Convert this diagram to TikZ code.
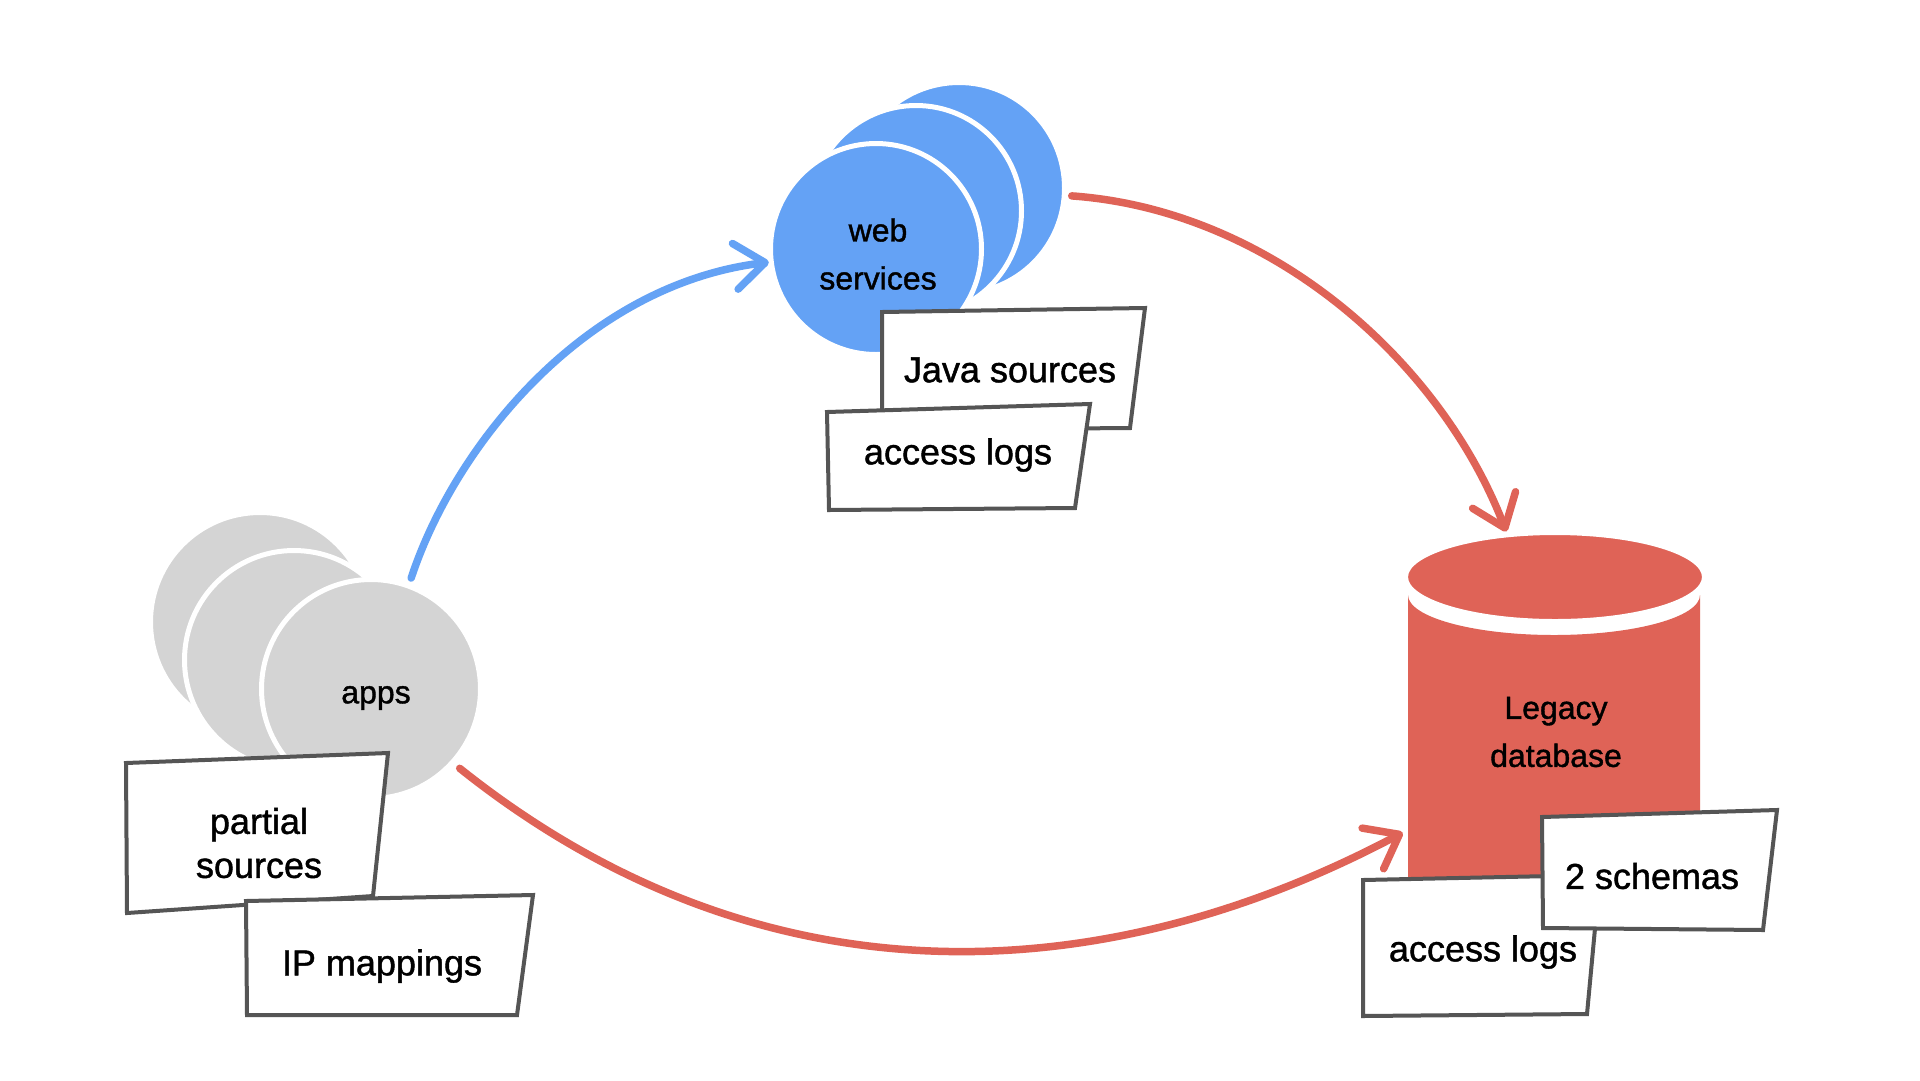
\documentclass[tikz,border=0pt]{standalone}
\usepackage{fontspec}
\setmainfont{Liberation Sans}
\newfontfamily\handfont{Liberation Sans}[FakeBold=1.2]
\usetikzlibrary{arrows.meta,shapes.geometric}
\definecolor{wsblue}{RGB}{100,162,245}
\definecolor{dbred}{RGB}{223,99,87}
\definecolor{appgray}{RGB}{212,212,212}
\definecolor{boxgray}{RGB}{85,85,85}
\tikzset{
  blob/.style={circle, inner sep=0pt, draw=white, line width=5pt},
  wsdisk/.style={blob, fill=wsblue, minimum size=211pt},
  appdisk/.style={blob, fill=appgray, minimum size=219pt},
  note/.style={fill=white, draw=boxgray, line width=4pt, line join=miter},
  notetext/.style={font=\handfont\fontsize{36}{44}\selectfont, align=center, inner sep=0pt},
  disktext/.style={font=\handfont\fontsize{32}{48}\selectfont, align=center, inner sep=0pt},
  flow/.style={line width=7.5pt, line cap=round},
  tipbarb/.style={-{Straight Barb[round, length=30pt, width=46pt]}},
  bluearrow/.style={flow, draw=wsblue, tipbarb},
  redarrow/.style={flow, draw=dbred, tipbarb},
}
\begin{document}
\begin{tikzpicture}[x=1pt,y=-1pt]
\useasboundingbox (0,0) rectangle (1920,1080);
\fill[white] (0,0) rectangle (1920,1080);

% ---------- web services ----------
\node[wsdisk] (ws3) at (959,188) {};
\node[wsdisk] (ws2) at (916,211) {};
\node[wsdisk] (ws1) at (876,249) {};
\node[disktext] (wstext) at (878,254) {web\\services};
\draw[note] (882,312) -- (1145,308) -- (1130,428) -- (882,430) -- cycle;
\node[notetext] (java) at (1010,370) {Java sources};
\draw[note] (827,412) -- (1090,404) -- (1075,508) -- (829,510) -- cycle;
\node[notetext] (wslogs) at (958,455) {access logs};

% ---------- apps ----------
\node[appdisk] (app3) at (260,622) {};
\node[appdisk] (app2) at (294,660) {};
\node[appdisk] (app1) at (371,689) {};
\node[disktext] (apptext) at (376,698) {apps};
\draw[note] (126,763) -- (388,753) -- (373,896) -- (127,913) -- cycle;
\node[notetext] (partial) at (259,843) {partial\\sources};
\draw[note] (246,901) -- (533,895) -- (517,1015) -- (247,1015) -- cycle;
\node[notetext] (ipmap) at (382,966) {IP mappings};

% ---------- legacy database ----------
\fill[dbred] (1408,595) -- (1408,880) -- (1700,880) -- (1700,595)
  arc[start angle=0, end angle=180, x radius=146, y radius=40] -- cycle;
\node[inner sep=0pt, outer sep=0pt, minimum width=292pt, minimum height=290pt] (dbbody) at (1554,735) {};
\node[ellipse, inner sep=0pt, minimum width=300pt, minimum height=90pt,
      fill=dbred, draw=white, line width=6pt] (db) at (1555,577) {};
\node[disktext] (dbtext) at (1556,732) {Legacy\\database};
\draw[note] (1363,880) -- (1600,875) -- (1587,1014) -- (1363,1016) -- cycle;
\node[notetext] (dblogs) at (1483,952) {access logs};
\draw[note] (1542,817) -- (1777,810) -- (1763,930) -- (1543,928) -- cycle;
\node[notetext] (schemas) at (1652,876) {2 schemas};

% ---------- connectors ----------
\draw[bluearrow, shorten <=6pt] (app1.70) .. controls (455,445) and (585,285) .. (ws1.187);
\draw[redarrow, shorten <=5pt] (ws3.-4) .. controls (1270,210) and (1440,360) .. (db.137);
\draw[redarrow, shorten <=7pt, shorten >=6pt] (app1.-42) .. controls (760,1008) and (1100,993) .. (dbbody.213);
\end{tikzpicture}
\end{document}
